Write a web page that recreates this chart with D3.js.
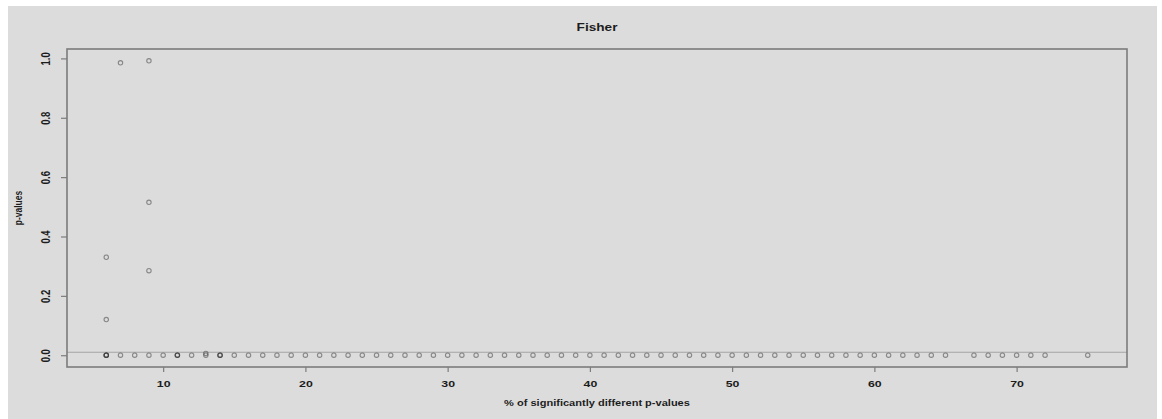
<!DOCTYPE html>
<html>
<head>
<meta charset="utf-8">
<script src="https://cdn.jsdelivr.net/npm/d3@7"></script>
<style>
  html, body { margin: 0; padding: 0; background: #ffffff; }
  svg { display: block; }
  text { font-family: "Liberation Sans", Arial, sans-serif; font-weight: bold; fill: #1c1c1c; }
</style>
</head>
<body>
<svg id="chart" width="1162" height="419"></svg>
<script>
// ---- data ----
const title = "Fisher";
const xLabel = "% of significantly different p-values";
const yLabel = "p-values";

// upper points (non-zero p-values)
const highX = [6, 6, 7, 9, 9, 9];
const highP = [0.33, 0.12, 0.985, 0.992, 0.515, 0.285];

// points at (or near) zero, duplicates where marks overlap
const zeroX = [6, 6, 6, 6, 7, 8, 9, 10, 11, 11, 11, 12, 13, 13, 14, 14, 14,
  15, 16, 17, 18, 19, 20, 21, 22, 23, 24, 25, 26, 27, 28, 29, 30,
  31, 32, 33, 34, 35, 36, 37, 38, 39, 40, 41, 42, 43, 44, 45, 46, 47, 48, 49, 50,
  51, 52, 53, 54, 55, 56, 57, 58, 59, 60, 61, 62, 63, 64, 65,
  67, 68, 69, 70, 71, 72, 75];
const zeroP = zeroX.map((x, i) => (x === 13 && i === zeroX.indexOf(13) + 1) ? 0.006 : 0);

const refLine = 0.01;
const xTicks = [10, 20, 30, 40, 50, 60, 70];
const yTicks = [0.0, 0.2, 0.4, 0.6, 0.8, 1.0];

// ---- layout ----
const svg = d3.select("#chart");
const box = { left: 67, right: 1127, top: 49, bottom: 367 };
const sx = 1.3; // horizontal stretch of the glyphs in the reference

svg.append("rect").attr("x", 8).attr("y", 6).attr("width", 1149).attr("height", 413)
  .attr("fill", "#dcdcdc");

const allX = highX.concat(zeroX);
const allP = highP.concat(zeroP);
function rExtend(lo, hi) { const d = (hi - lo) * 0.04; return [lo - d, hi + d]; }
const x = d3.scaleLinear().domain(rExtend(d3.min(allX), d3.max(allX))).range([box.left, box.right]);
const y = d3.scaleLinear().domain(rExtend(d3.min(allP), d3.max(allP))).range([box.bottom, box.top]);

// reference line
svg.append("line")
  .attr("x1", box.left).attr("x2", box.right)
  .attr("y1", y(refLine)).attr("y2", y(refLine))
  .attr("stroke", "#a4a4a4").attr("stroke-width", 1);

// points
const pts = allX.map((v, i) => ({ x: v, p: allP[i] }));
svg.append("g").selectAll("circle").data(pts).join("circle")
  .attr("cx", d => x(d.x)).attr("cy", d => y(d.p)).attr("r", 2.2)
  .attr("fill", "none").attr("stroke", "#333").attr("stroke-opacity", 0.5).attr("stroke-width", 1.1);

// box
svg.append("rect")
  .attr("x", box.left).attr("y", box.top)
  .attr("width", box.right - box.left).attr("height", box.bottom - box.top)
  .attr("fill", "none").attr("stroke", "#7c7c7c").attr("stroke-width", 1.6);

// x axis
const gx = svg.append("g").attr("transform", `translate(0,${box.bottom})`)
  .call(d3.axisBottom(x).tickValues(xTicks).tickSize(5).tickFormat(d3.format("d")));
gx.select(".domain").remove();
gx.selectAll(".tick line").attr("stroke", "#7c7c7c").attr("stroke-width", 1.2);
gx.selectAll(".tick text")
  .attr("y", null).attr("dy", null)
  .attr("transform", `translate(0,20) scale(${sx},1)`)
  .style("font-size", "9.5px").attr("fill", "#1c1c1c");

// y axis
const gy = svg.append("g").attr("transform", `translate(${box.left},0)`)
  .call(d3.axisLeft(y).tickValues(yTicks).tickSize(6).tickFormat(d3.format(".1f")));
gy.select(".domain").remove();
gy.selectAll(".tick line").attr("stroke", "#7c7c7c").attr("stroke-width", 1.2);
gy.selectAll(".tick text")
  .attr("x", null).attr("dy", null)
  .attr("text-anchor", "middle")
  .attr("transform", `translate(-17,0) scale(${sx},1) rotate(-90)`)
  .style("font-size", "9.5px").attr("fill", "#1c1c1c");

// titles
const cx = (box.left + box.right) / 2;
svg.append("text").text(title)
  .attr("text-anchor", "middle")
  .attr("transform", `translate(${cx},31) scale(${sx},1)`)
  .style("font-size", "10.5px");

svg.append("text").text(xLabel)
  .attr("text-anchor", "middle")
  .attr("transform", `translate(${cx},406) scale(${sx},1)`)
  .style("font-size", "8.5px");

svg.append("text").text(yLabel)
  .attr("text-anchor", "middle")
  .attr("transform", `translate(22,${(box.top + box.bottom) / 2}) scale(${sx},1) rotate(-90)`)
  .style("font-size", "8.5px");
</script>
</body>
</html>
